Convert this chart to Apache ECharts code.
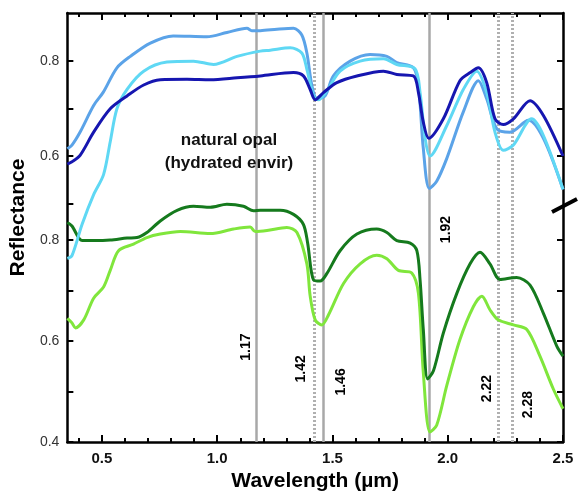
<!DOCTYPE html>
<html>
<head>
<meta charset="utf-8">
<title>Reflectance</title>
<script src="https://cdn.jsdelivr.net/npm/echarts@6/dist/echarts.min.js"></script>
<style>
    html, body { margin: 0; padding: 0; background: #fff; }
    #chart { width: 578px; height: 497px; }
</style>
</head>
<body>
<div id="chart"></div>
<script>
// upper panel (blue spectra), [wavelength um, reflectance]
var mediumBlue = [[0.35,0.615],[0.37,0.623],[0.406,0.651],[0.464,0.706],[0.506,0.734],[0.565,0.785],[0.623,0.809],[0.71,0.837],[0.809,0.852],[0.955,0.85],[1.042,0.859],[1.129,0.868],[1.15,0.863],[1.187,0.863],[1.259,0.866],[1.331,0.868],[1.367,0.854],[1.389,0.816],[1.411,0.747],[1.432,0.721],[1.468,0.726],[1.504,0.768],[1.577,0.799],[1.663,0.813],[1.736,0.809],[1.779,0.796],[1.851,0.785],[1.873,0.747],[1.894,0.616],[1.92,0.532],[1.952,0.547],[1.996,0.595],[2.068,0.693],[2.133,0.758],[2.169,0.72],[2.213,0.657],[2.27,0.65],[2.35,0.675],[2.415,0.637],[2.5,0.53]];
var cyan = [[0.35,0.385],[0.37,0.391],[0.414,0.457],[0.464,0.519],[0.507,0.561],[0.536,0.63],[0.565,0.699],[0.609,0.74],[0.681,0.778],[0.782,0.797],[0.897,0.799],[0.984,0.792],[1.086,0.809],[1.187,0.82],[1.23,0.822],[1.317,0.827],[1.367,0.816],[1.389,0.782],[1.418,0.726],[1.439,0.718],[1.476,0.737],[1.533,0.778],[1.62,0.799],[1.721,0.804],[1.779,0.792],[1.858,0.783],[1.88,0.733],[1.902,0.637],[1.923,0.6],[1.996,0.664],[2.068,0.74],[2.126,0.778],[2.169,0.733],[2.205,0.65],[2.241,0.612],[2.285,0.623],[2.364,0.678],[2.415,0.643],[2.5,0.53]];
var darkBlue = [[0.35,0.583],[0.37,0.588],[0.406,0.602],[0.464,0.65],[0.536,0.699],[0.609,0.726],[0.681,0.749],[0.753,0.76],[0.869,0.761],[0.97,0.76],[1.086,0.764],[1.187,0.768],[1.331,0.775],[1.374,0.768],[1.403,0.74],[1.425,0.718],[1.461,0.733],[1.519,0.754],[1.606,0.768],[1.721,0.778],[1.779,0.771],[1.851,0.768],[1.873,0.733],[1.894,0.671],[1.918,0.637],[1.981,0.678],[2.053,0.758],[2.097,0.775],[2.133,0.785],[2.169,0.754],[2.205,0.678],[2.241,0.666],[2.285,0.678],[2.357,0.716],[2.415,0.685],[2.5,0.6]];

// lower panel (green spectra)
var darkGreen = [[0.35,0.835],[0.37,0.828],[0.414,0.799],[0.464,0.799],[0.536,0.8],[0.609,0.804],[0.652,0.805],[0.695,0.815],[0.753,0.838],[0.826,0.859],[0.897,0.867],[0.97,0.865],[1.042,0.871],[1.114,0.867],[1.158,0.858],[1.187,0.859],[1.273,0.859],[1.331,0.851],[1.374,0.831],[1.392,0.795],[1.418,0.721],[1.447,0.719],[1.476,0.734],[1.533,0.779],[1.606,0.812],[1.692,0.822],[1.736,0.815],[1.779,0.799],[1.837,0.794],[1.866,0.779],[1.88,0.721],[1.894,0.623],[1.913,0.525],[1.938,0.541],[1.981,0.616],[2.039,0.694],[2.097,0.753],[2.14,0.776],[2.183,0.753],[2.227,0.722],[2.299,0.726],[2.357,0.711],[2.415,0.655],[2.473,0.59],[2.5,0.57]];
var lightGreen = [[0.35,0.645],[0.37,0.636],[0.385,0.626],[0.421,0.642],[0.464,0.685],[0.507,0.707],[0.536,0.74],[0.572,0.779],[0.637,0.792],[0.695,0.805],[0.753,0.812],[0.84,0.817],[0.97,0.813],[1.071,0.822],[1.143,0.826],[1.165,0.817],[1.216,0.819],[1.302,0.825],[1.346,0.815],[1.389,0.753],[1.403,0.69],[1.425,0.642],[1.454,0.632],[1.483,0.652],[1.548,0.714],[1.62,0.753],[1.692,0.77],[1.736,0.763],[1.786,0.74],[1.844,0.735],[1.873,0.694],[1.894,0.538],[1.923,0.42],[1.952,0.433],[1.996,0.512],[2.053,0.603],[2.111,0.668],[2.148,0.689],[2.183,0.662],[2.219,0.642],[2.285,0.632],[2.343,0.623],[2.4,0.57],[2.458,0.505],[2.5,0.466]];

// absorption bands
var bands = [1.17, 1.42, 1.46, 1.92, 2.22, 2.28];
var bandDashed = [false, true, false, false, true, true];

// tick values
var xMajorTicks = [0.5, 1.0, 1.5, 2.0, 2.5];
var xMinorTicks = [0.4, 0.6, 0.7, 0.8, 0.9, 1.1, 1.2, 1.3, 1.4, 1.6, 1.7, 1.8, 1.9, 2.1, 2.2, 2.3, 2.4];
var lowerTicks = [0.4, 0.5, 0.6, 0.7, 0.8];
var lowerLabels = [0.4, 0.6, 0.8];
var upperTicks = [0.5, 0.6, 0.7, 0.8];
var upperLabels = [0.6, 0.8];

var FONT = '"Liberation Sans", Arial, sans-serif';

// where the band numbers sit: height on lower axis, sideways offset in px
var bandLabelPos = [[0.588, -10], [0.545, -13], [0.519, 18], [0.821, 17], [0.506, -11], [0.474, 16]];

var xAxisBase = function (pos, ticks, len, showLine) {
    return {
        type: 'value', gridIndex: 0, position: pos, min: 0.35, max: 2.5,
        axisLine: { show: showLine, onZero: false, lineStyle: { color: '#000', width: 2.5 } },
        axisTick: { show: true, inside: true, length: len, customValues: ticks, lineStyle: { color: '#000', width: 2 } },
        axisLabel: { show: false },
        splitLine: { show: false }
    };
};
var yAxisBase = function (pos, min, max, ticks, showLine) {
    return {
        type: 'value', gridIndex: 0, position: pos, min: min, max: max,
        axisLine: { show: showLine, onZero: false, lineStyle: { color: '#000', width: 2.5 } },
        axisTick: { show: true, inside: true, length: 6, customValues: ticks, lineStyle: { color: '#000', width: 2 } },
        axisLabel: { show: false },
        splitLine: { show: false }
    };
};

var xBottom = xAxisBase('bottom', xMajorTicks, 7, true);
xBottom.axisLabel = {
    show: true, customValues: xMajorTicks, margin: 9,
    fontFamily: FONT, fontWeight: 'bold', fontSize: 15, color: '#111',
    formatter: function (v) { return v.toFixed(1); }
};
xBottom.name = 'Wavelength (\u00b5m)';
xBottom.nameLocation = 'middle';
xBottom.nameGap = 29;
xBottom.nameTextStyle = { fontFamily: FONT, fontWeight: 'bold', fontSize: 21, color: '#000' };

var yLower = yAxisBase('left', 0.4, 1.25, lowerTicks, true);
yLower.axisLabel = {
    show: true, customValues: lowerLabels, margin: 8,
    fontFamily: FONT, fontSize: 14, color: '#333',
    formatter: function (v) { return v.toFixed(1); }
};
yLower.name = 'Reflectance';
yLower.nameLocation = 'middle';
yLower.nameGap = 31;
yLower.nameTextStyle = { fontFamily: FONT, fontWeight: 'bold', fontSize: 21, color: '#000', padding: [0, 0, 0, 20] };

var yUpper = yAxisBase('left', 0, 0.9, upperTicks, false);
yUpper.axisLabel = {
    show: true, customValues: upperLabels, margin: 8,
    fontFamily: FONT, fontSize: 14, color: '#333',
    formatter: function (v) { return v.toFixed(1); }
};

var spectrum = function (name, data, yIdx, color) {
    return {
        name: name, type: 'line', xAxisIndex: 0, yAxisIndex: yIdx,
        data: data, showSymbol: false, smooth: 0.3,
        lineStyle: { color: color, width: 3 },
        silent: true, animation: false
    };
};

var run = function () {
    var chart = echarts.init(document.getElementById('chart'));

    var bandLines = bands.map(function (b, i) {
        return {
            xAxis: b,
            lineStyle: bandDashed[i]
                ? { color: '#b0b0b0', width: 3, type: [2, 2] }
                : { color: '#a8a8a8', width: 2.5, type: 'solid' }
        };
    });
    // label is rotated 90deg, so its local y offset moves it sideways on screen
    var bandTexts = bands.map(function (b, i) {
        return {
            value: [b, bandLabelPos[i][0]],
            label: { offset: [0, bandLabelPos[i][1]] }
        };
    });

    var option = {
        backgroundColor: '#fff',
        animation: false,
        grid: { left: 67, right: 15, top: 13, bottom: 50 },
        xAxis: [
            xBottom,
            xAxisBase('bottom', xMinorTicks, 4, false),
            xAxisBase('top', xMajorTicks, 7, true),
            xAxisBase('top', xMinorTicks, 4, false)
        ],
        yAxis: [
            yLower,
            yUpper,
            yAxisBase('right', 0.4, 1.25, lowerTicks, true),
            yAxisBase('right', 0, 0.9, [0.6, 0.7, 0.8], false)
        ],
        series: [
            {
                type: 'scatter', xAxisIndex: 0, yAxisIndex: 0,
                symbolSize: 0, data: bandTexts, silent: true, z: 5,
                itemStyle: { opacity: 1 },
                label: {
                    show: true, position: 'inside', rotate: 90, opacity: 1,
                    fontFamily: FONT, fontWeight: 'bold', fontSize: 14, color: '#000',
                    formatter: function (p) { return p.value[0].toFixed(2); }
                },
                markLine: {
                    silent: true, symbol: ['none', 'none'], z: 1,
                    label: { show: false },
                    data: bandLines
                }
            },
            spectrum('lightGreen', lightGreen, 0, '#80e63c'),
            spectrum('darkGreen', darkGreen, 0, '#157a1d'),
            spectrum('mediumBlue', mediumBlue, 1, '#5ba3e8'),
            spectrum('cyan', cyan, 1, '#5fd8f4'),
            spectrum('darkBlue', darkBlue, 1, '#1616b0')
        ],
        graphic: [
            {
                type: 'text', z: 10,
                style: {
                    x: 229, y: 152, text: 'natural opal\n(hydrated envir)',
                    textAlign: 'center', textVerticalAlign: 'middle',
                    font: 'bold 17px ' + FONT, lineHeight: 23, fill: '#111'
                }
            },
            {
                // axis break mark on the right frame
                type: 'line', z: 10,
                shape: { x1: 552, y1: 212, x2: 577, y2: 199 },
                style: { stroke: '#000', lineWidth: 4 }
            }
        ]
    };
    chart.setOption(option);
};

run();
</script>
</body>
</html>
